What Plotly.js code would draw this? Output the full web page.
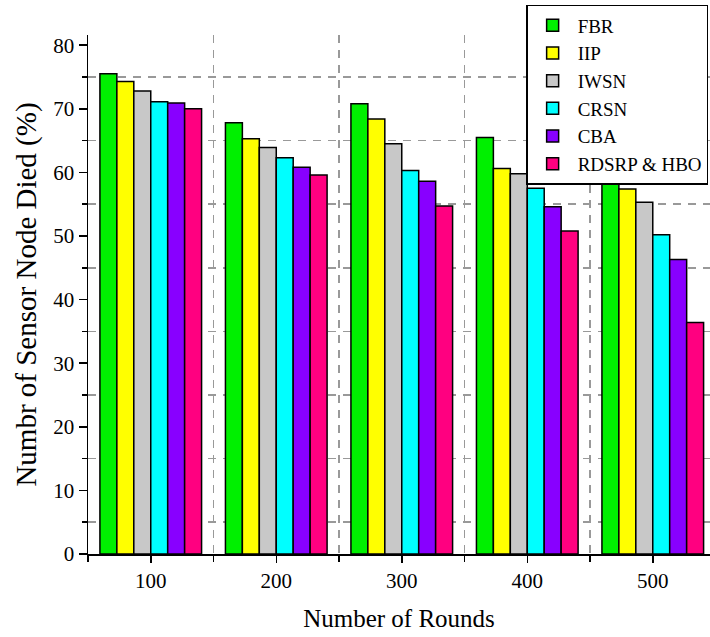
<!DOCTYPE html>
<html>
<head>
<meta charset="utf-8">
<script src="https://cdn.plot.ly/plotly-3.0.1.min.js"></script>
<style>html,body{margin:0;padding:0;background:#fff;}#chart{width:710px;height:637px;}</style>
</head>
<body>
<div id="chart"></div>
<script>
var rounds = [100, 200, 300, 400, 500];
var seriesNames = ["FBR", "IIP", "IWSN", "CRSN", "CBA", "RDSRP & HBO"];
var fbr   = [75.5, 67.8, 70.8, 65.5, 60.5];
var iip   = [74.3, 65.3, 68.4, 60.6, 57.4];
var iwsn  = [72.8, 63.9, 64.5, 59.8, 55.3];
var crsn  = [71.1, 62.3, 60.3, 57.5, 50.2];
var cba   = [70.9, 60.8, 58.6, 54.6, 46.3];
var rdsrp = [70.0, 59.6, 54.7, 50.8, 36.4];
var seriesValues = [fbr, iip, iwsn, crsn, cba, rdsrp];
var colors = ["#00f000", "#ffff00", "#c8c8c8", "#00ffff", "#8800ff", "#ff0080"];

var font = "Liberation Serif, Times New Roman, serif";
var traces = seriesNames.map(function (n, i) {
  return {
    type: "bar",
    name: n,
    x: rounds,
    y: seriesValues[i],
    marker: { color: colors[i], line: { color: "#000", width: 1.5 } }
  };
});

var layout = {
  width: 710, height: 637,
  margin: { l: 88, r: 0, t: 35, b: 83 },
  paper_bgcolor: "#fff", plot_bgcolor: "#fff",
  barmode: "group", bargap: 0.19, bargroupgap: 0,
  font: { family: font, color: "#000" },
  xaxis: {
    range: [50, 545.6],
    tickmode: "linear", tick0: 0, dtick: 100,
    showgrid: false, zeroline: false,
    showline: true, linecolor: "#000", linewidth: 1.5,
    ticks: "outside", ticklen: 7, tickwidth: 1.5, tickcolor: "#000",
    tickfont: { family: font, size: 21 },
    minor: { tick0: 50, dtick: 100, ticks: "outside", ticklen: 6, tickwidth: 1.5, tickcolor: "#000",
             showgrid: true, gridcolor: "#999", gridwidth: 1.5, griddash: "8px,7px" },
    title: { text: "Number of Rounds", font: { family: font, size: 25 }, standoff: 18 }
  },
  yaxis: {
    range: [0, 81.6],
    tickmode: "linear", tick0: 0, dtick: 10,
    showgrid: false, zeroline: false,
    showline: true, linecolor: "#000", linewidth: 1.5,
    ticks: "outside", ticklen: 8, tickwidth: 1.5, tickcolor: "#000",
    tickfont: { family: font, size: 21 },
    minor: { tick0: 5, dtick: 10, ticks: "outside", ticklen: 5, tickwidth: 1.5, tickcolor: "#000",
             showgrid: true, gridcolor: "#999", gridwidth: 1.5, griddash: "8px,7px" },
    title: { text: "Numbr of Sensor Node Died (%)", font: { family: font, size: 29 }, standoff: 8 }
  },
  legend: {
    x: 0.997, xanchor: "right", y: 1.058, yanchor: "top",
    bgcolor: "#fff", bordercolor: "#000", borderwidth: 1.5,
    font: { family: font, size: 19 },
    tracegroupgap: 0, itemwidth: 40
  }
};

Plotly.newPlot("chart", traces, layout, { displayModeBar: false, staticPlot: true });
</script>
</body>
</html>
